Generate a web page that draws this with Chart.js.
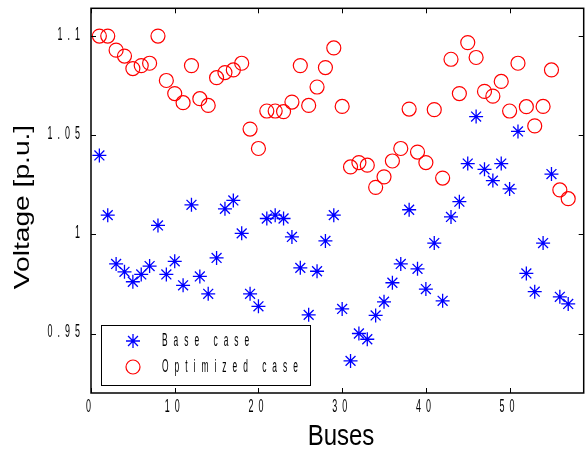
<!DOCTYPE html>
<html>
<head>
<meta charset="utf-8">
<script src="https://cdn.jsdelivr.net/npm/chart.js@4"></script>
<style>
html,body{margin:0;padding:0;background:#fff;overflow:hidden;}
#wrap{width:588px;height:451px;overflow:hidden;}
</style>
</head>
<body>
<div id="wrap"><canvas id="c" width="592" height="451"></canvas></div>
<script>
const buses = [1,2,3,4,5,6,7,8,9,10,11,12,13,14,15,16,17,18,19,20,21,22,23,24,25,26,27,28,29,30,31,32,33,34,35,36,37,38,39,40,41,42,43,44,45,46,47,48,49,50,51,52,53,54,55,56,57];
const baseCase = [1.0398,1.0097,0.9851,0.9811,0.9761,0.9798,0.9840,1.0045,0.9798,0.9864,
  0.9743,1.0149,0.9788,0.9700,0.9881,1.0129,1.0171,1.0005,0.9700,0.9637,
  1.0080,1.0097,1.0080,0.9987,0.9831,0.9594,0.9814,0.9967,1.0097,0.9624,
  0.9362,0.9500,0.9471,0.9591,0.9660,0.9756,0.9851,1.0124,0.9826,0.9724,
  0.9956,0.9665,1.0088,1.0165,1.0357,1.0594,1.0328,1.0271,1.0357,1.0229,
  1.0519,0.9803,0.9711,0.9956,1.0304,0.9685,0.9649];
const optimizedCase = [1.1000,1.1000,1.0929,1.0899,1.0836,1.0851,1.0863,1.1000,1.0776,1.0710,
  1.0664,1.0851,1.0684,1.0650,1.0790,1.0816,1.0829,1.0863,1.0531,1.0433,
  1.0622,1.0622,1.0619,1.0667,1.0851,1.0650,1.0743,1.0841,1.0940,1.0645,
  1.0340,1.0362,1.0349,1.0237,1.0290,1.0370,1.0433,1.0632,1.0415,1.0362,
  1.0629,1.0284,1.0883,1.0710,1.0967,1.0892,1.0721,1.0697,1.0771,1.0622,
  1.0863,1.0644,1.0547,1.0645,1.0829,1.0224,1.0180];
const xTicks = [0,10,20,30,40,50];
const xTickLabels = ['0','10','20','30','40','50'];
const yTicks = [0.95,1,1.05,1.1];
const yTickLabels = ['0.95','1','1.05','1.1'];
const seriesNames = ['Base case','Optimized case'];
const xTitle = 'Buses';
const yTitle = 'Voltage [p.u.]';

const FONT = '"Liberation Sans", Arial, sans-serif';

function narrowText(ctx, text, x, y, size, sx, sy, gap, align) {
  ctx.save();
  ctx.font = size + 'px ' + FONT;
  ctx.textBaseline = 'middle';
  ctx.textAlign = 'left';
  try { ctx.letterSpacing = (gap / sx) + 'px'; } catch (e) {}
  const w = ctx.measureText(text).width * sx;
  let x0 = x;
  if (align === 'center') x0 = x - w / 2;
  else if (align === 'right') x0 = x - w;
  ctx.translate(x0, y);
  ctx.scale(sx, sy);
  ctx.fillStyle = '#000';
  ctx.fillText(text, 0, 0);
  ctx.restore();
}

const framePlugin = {
  id: 'frame',
  afterDraw(chart) {
    const ctx = chart.ctx;
    const a = chart.chartArea;
    const xs = chart.scales.x, ys = chart.scales.y;
    ctx.save();
    ctx.strokeStyle = '#000';
    ctx.lineWidth = 1;
    xs.ticks.forEach(t => {
      const px = Math.round(xs.getPixelForValue(t.value)) + 0.5;
      ctx.beginPath();
      ctx.moveTo(px, a.bottom); ctx.lineTo(px, a.bottom - 5);
      ctx.moveTo(px, a.top); ctx.lineTo(px, a.top + 5);
      ctx.stroke();
    });
    ys.ticks.forEach(t => {
      const py = Math.round(ys.getPixelForValue(t.value)) + 0.5;
      ctx.beginPath();
      ctx.moveTo(a.left, py); ctx.lineTo(a.left + 5, py);
      ctx.moveTo(a.right, py); ctx.lineTo(a.right - 5, py);
      ctx.stroke();
    });
    ctx.lineWidth = 1.5;
    ctx.strokeRect(a.left, a.top, a.right - a.left, a.bottom - a.top);
    xs.ticks.forEach(t => {
      const px = xs.getPixelForValue(t.value);
      narrowText(ctx, xTickLabels[xTicks.indexOf(t.value)], px, a.bottom + 14, 14, 0.64, 1.25, 5, 'center');
    });
    ys.ticks.forEach(t => {
      const py = ys.getPixelForValue(t.value);
      narrowText(ctx, yTickLabels[yTicks.indexOf(t.value)], a.left - 6, py - 1, 14, 0.64, 1.25, 5, 'right');
    });
    ctx.fillStyle = '#000';
    ctx.save();
    ctx.font = '24px ' + FONT;
    ctx.textAlign = 'center';
    ctx.textBaseline = 'middle';
    ctx.translate(341, 437);
    ctx.scale(1, 1.25);
    ctx.fillText(xTitle, 0, 0);
    ctx.restore();
    ctx.save();
    ctx.font = '22px ' + FONT;
    ctx.textAlign = 'center';
    ctx.textBaseline = 'middle';
    ctx.translate(23, 207);
    ctx.rotate(-Math.PI / 2);
    ctx.scale(1.28, 1);
    ctx.fillText(yTitle, 0, 0);
    ctx.restore();
    const lx = 101, ly = 325, lw = 209, lh = 60;
    ctx.fillStyle = '#fff';
    ctx.fillRect(lx, ly, lw, lh);
    ctx.lineWidth = 1;
    ctx.strokeStyle = '#000';
    ctx.strokeRect(lx + 0.5, ly + 0.5, lw, lh);
    chart.data.datasets.forEach((ds, i) => {
      const cy = ly + 16 + i * 26;
      ctx.save();
      ctx.strokeStyle = ds.borderColor;
      ctx.fillStyle = 'rgba(0,0,0,0)';
      ctx.lineWidth = ds.borderWidth;
      Chart.helpers.drawPoint(ctx, {
        pointStyle: ds.pointStyle, radius: ds.pointRadius, borderWidth: ds.borderWidth
      }, 133, cy);
      ctx.restore();
      narrowText(ctx, ds.label, 162, cy, 14, 0.6, 1.25, 6, 'left');
    });
    ctx.restore();
  }
};

const chart = new Chart(document.getElementById('c'), {
  type: 'scatter',
  data: {
    datasets: [
      {
        label: seriesNames[0],
        data: buses.map((b, i) => ({x: b, y: baseCase[i]})),
        pointStyle: 'star',
        pointRadius: 7,
        borderColor: '#0000ff',
        backgroundColor: '#0000ff',
        borderWidth: 1.3
      },
      {
        label: seriesNames[1],
        data: buses.map((b, i) => ({x: b, y: optimizedCase[i]})),
        pointStyle: 'circle',
        pointRadius: 7,
        borderColor: '#ff0000',
        backgroundColor: 'rgba(0,0,0,0)',
        borderWidth: 1.2
      }
    ]
  },
  options: {
    responsive: false,
    animation: false,
    events: [],
    layout: {padding: {left: 0, top: 4, right: 2, bottom: 0}},
    plugins: {legend: {display: false}, tooltip: {enabled: false}},
    scales: {
      x: {
        type: 'linear', min: 0, max: 58.85,
        afterBuildTicks: s => { s.ticks = xTicks.map(v => ({value: v})); },
        afterFit: s => { s.height = 58; },
        ticks: {display: false},
        grid: {display: false},
        border: {display: false}
      },
      y: {
        type: 'linear', min: 0.92, max: 1.114,
        afterBuildTicks: s => { s.ticks = yTicks.map(v => ({value: v})); },
        afterFit: s => { s.width = 91; },
        ticks: {display: false},
        grid: {display: false},
        border: {display: false}
      }
    }
  },
  plugins: [framePlugin]
});
</script>
</body>
</html>
